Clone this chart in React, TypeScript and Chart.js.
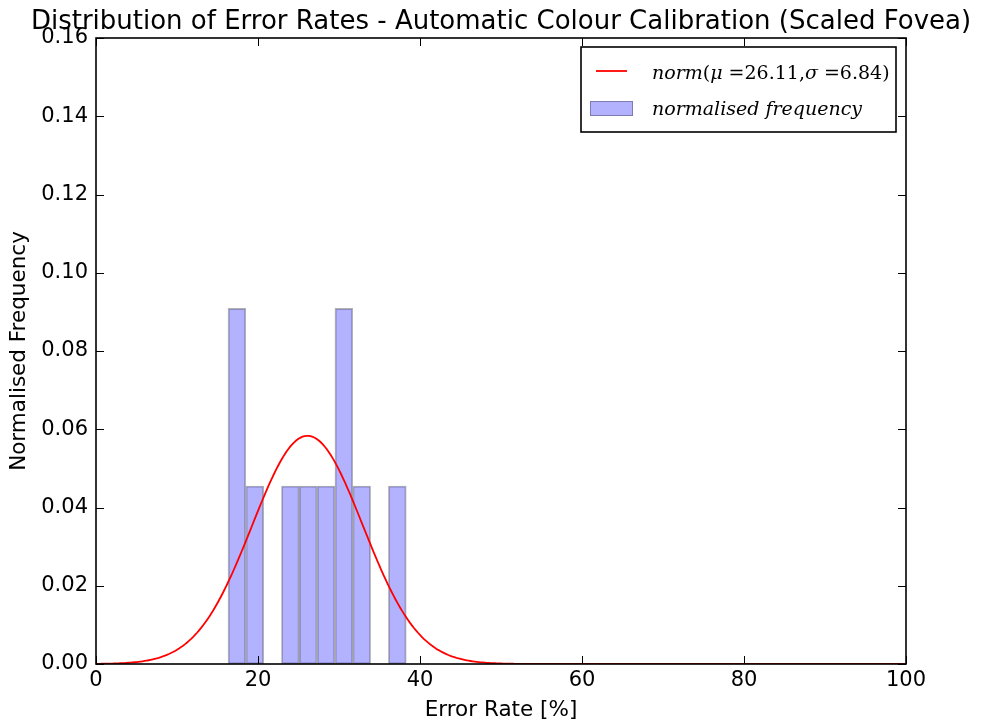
import React, { useEffect, useRef } from "react";
import { Chart, registerables } from "chart.js";

Chart.register(...registerables);

// Histogram bins (centres, in % error) and their normalised frequencies
const BIN_CENTERS = [17.4, 19.6, 21.8, 24.0, 26.2, 28.4, 30.6, 32.8, 35.0, 37.2];
const BIN_DENSITY = [0.0909, 0.0455, 0, 0.0455, 0.0455, 0.0455, 0.0909, 0.0455, 0, 0.0455];

// Fitted normal distribution parameters
const MU = 26.11;
const SIGMA = 6.84;

const X_TICKS = [0, 20, 40, 60, 80, 100];
const Y_TICKS = [0, 0.02, 0.04, 0.06, 0.08, 0.1, 0.12, 0.14, 0.16];

const TITLE = "Distribution of Error Rates - Automatic Colour Calibration (Scaled Fovea)";
const X_LABEL = "Error Rate [%]";
const Y_LABEL = "Normalised Frequency";

const SANS = "'DejaVu Sans', sans-serif";
const SERIF = "'DejaVu Serif', serif";

function normPdf(x: number): number {
  const z = (x - MU) / SIGMA;
  return Math.exp(-0.5 * z * z) / (SIGMA * Math.sqrt(2 * Math.PI));
}

// Sample the fitted pdf over the axis range
const CURVE = Array.from({ length: 401 }, (_, i) => {
  const x = i * 0.25;
  return { x, y: normPdf(x) };
});

const decor = {
  id: "decor",
  afterDatasetsDraw(chart: any) {
    const { ctx, chartArea, scales } = chart;
    const { left, right, top, bottom } = chartArea;
    const xs = scales.x;
    const ys = scales.y;
    ctx.save();
    ctx.strokeStyle = "#000";
    ctx.lineWidth = 1;
    const tl = 8;
    ctx.beginPath();
    for (const v of X_TICKS) {
      const px = Math.round(xs.getPixelForValue(v)) + 0.5;
      ctx.moveTo(px, bottom);
      ctx.lineTo(px, bottom - tl);
      ctx.moveTo(px, top);
      ctx.lineTo(px, top + tl);
    }
    for (const v of Y_TICKS) {
      const py = Math.round(ys.getPixelForValue(v)) + 0.5;
      ctx.moveTo(left, py);
      ctx.lineTo(left + tl, py);
      ctx.moveTo(right, py);
      ctx.lineTo(right - tl, py);
    }
    ctx.stroke();
    ctx.lineWidth = 1.6;
    ctx.strokeRect(left, top, right - left, bottom - top);
    ctx.restore();
  },
  afterDraw(chart: any) {
    const { ctx, chartArea } = chart;
    const { left, right, top, bottom } = chartArea;
    const cx = (left + right) / 2;
    ctx.save();
    ctx.fillStyle = "#000";

    // title
    ctx.font = `26px ${SANS}`;
    ctx.textAlign = "center";
    ctx.textBaseline = "alphabetic";
    ctx.fillText(TITLE, cx, 29);

    // axis labels
    ctx.font = `21.5px ${SANS}`;
    ctx.fillText(X_LABEL, cx, 716);
    ctx.save();
    ctx.translate(25, (top + bottom) / 2);
    ctx.rotate(-Math.PI / 2);
    ctx.fillText(Y_LABEL, 0, 0);
    ctx.restore();

    // legend box
    ctx.fillStyle = "#fff";
    ctx.fillRect(581, 47, 315, 85);
    ctx.strokeStyle = "#000";
    ctx.lineWidth = 1.6;
    ctx.strokeRect(581, 47, 315, 85);

    // legend: fitted curve
    ctx.strokeStyle = "red";
    ctx.lineWidth = 1.8;
    ctx.beginPath();
    ctx.moveTo(596, 71);
    ctx.lineTo(627, 71);
    ctx.stroke();

    // legend: histogram patch
    ctx.fillStyle = "rgba(0,0,255,0.3)";
    ctx.fillRect(590, 101, 43, 15);
    ctx.strokeStyle = "rgba(0,0,0,0.3)";
    ctx.lineWidth = 1;
    ctx.strokeRect(590.5, 101.5, 42, 14);

    ctx.fillStyle = "#000";
    ctx.textAlign = "left";
    const it = `italic 19px ${SERIF}`;
    const up = `19px ${SERIF}`;
    const parts: [string, string][] = [
      ["norm", it],
      ["(", up],
      ["\u03bc", it],
      [" =" + MU.toFixed(2) + ",", up],
      ["\u03c3", it],
      [" =" + SIGMA.toFixed(2) + ")", up],
    ];
    let tx = 652;
    for (const [s, f] of parts) {
      ctx.font = f;
      ctx.fillText(s, tx, 79);
      tx += ctx.measureText(s).width;
    }
    ctx.font = it;
    ctx.fillText("normalised frequency", 652, 115);
    ctx.restore();
  },
};

export default function App() {
  const ref = useRef<HTMLCanvasElement | null>(null);

  useEffect(() => {
    if (!ref.current) return;
    const chart = new Chart(ref.current, {
      type: "bar",
      data: {
        datasets: [
          {
            type: "line",
            label: "norm",
            data: CURVE,
            borderColor: "red",
            borderWidth: 1.8,
            pointRadius: 0,
            fill: false,
            order: 0,
          } as any,
          {
            type: "bar",
            label: "normalised frequency",
            data: BIN_CENTERS.map((c, i) => ({ x: c, y: BIN_DENSITY[i] > 0 ? BIN_DENSITY[i] : null })),
            backgroundColor: "rgba(0,0,255,0.3)",
            borderColor: "rgba(0,0,0,0.3)",
            borderWidth: 1.2,
            borderSkipped: false,
            barPercentage: 1,
            categoryPercentage: 1,
            order: 1,
          } as any,
        ],
      },
      options: {
        responsive: false,
        animation: false,
        devicePixelRatio: 1,
        layout: { padding: { top: 38, right: 77, left: 0, bottom: 0 } },
        plugins: { legend: { display: false }, title: { display: false }, tooltip: { enabled: false } },
        scales: {
          x: {
            type: "linear",
            min: 0,
            max: 100,
            offset: false,
            afterFit: (s: any) => { s.height = 62; },
            afterBuildTicks: (s: any) => { s.ticks = X_TICKS.map((v) => ({ value: v })); },
            grid: { display: false, drawTicks: false },
            border: { display: false },
            ticks: {
              color: "#000",
              padding: 4,
              maxRotation: 0,
              font: { family: SANS, size: 21 },
              callback: (v: any) => String(v),
            },
          },
          y: {
            type: "linear",
            min: 0,
            max: 0.16,
            afterFit: (s: any) => { s.width = 96; },
            afterBuildTicks: (s: any) => { s.ticks = Y_TICKS.map((v) => ({ value: v })); },
            grid: { display: false, drawTicks: false },
            border: { display: false },
            ticks: {
              color: "#000",
              padding: 8,
              font: { family: SANS, size: 21 },
              callback: (v: any) => Number(v).toFixed(2),
            },
          },
        },
      } as any,
      plugins: [decor],
    });
    return () => chart.destroy();
  }, []);

  return (
    <div style={{ position: "absolute", left: 0, top: 0, width: 983, height: 726, background: "#fff" }}>
      <canvas ref={ref} width={983} height={726} />
    </div>
  );
}
